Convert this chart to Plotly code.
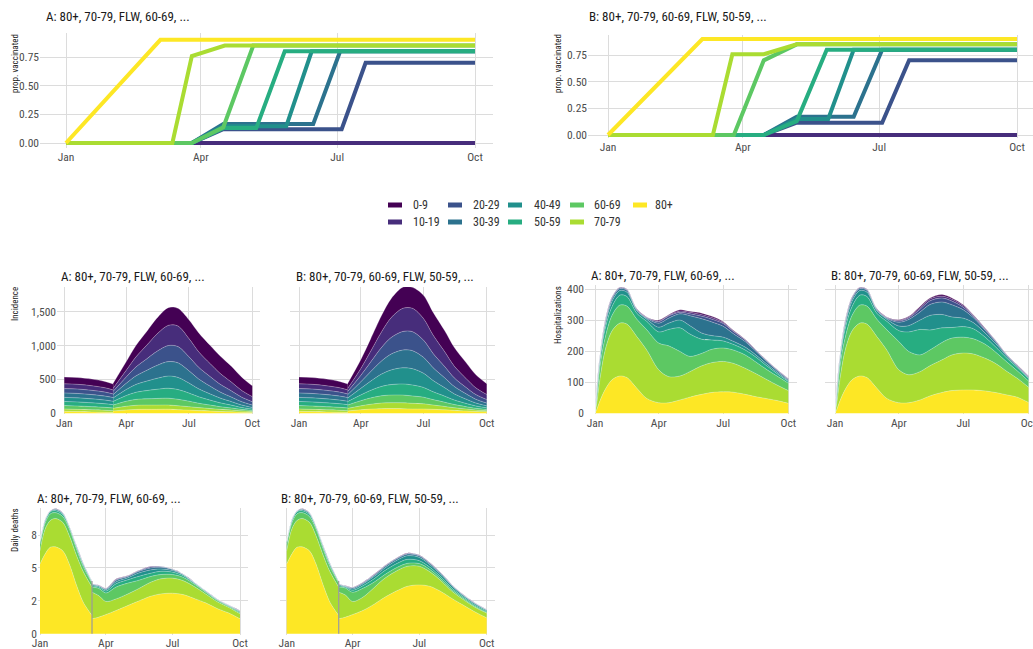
import pandas as pd
import plotly.graph_objects as go

W, H = 1033, 649
FONT = "Roboto Condensed, Liberation Sans Narrow, DejaVu Sans Condensed, Roboto, sans-serif"

groups = ["0-9", "10-19", "20-29", "30-39", "40-49", "50-59", "60-69", "70-79", "80+"]
colors = ["#440154", "#472D7B", "#3B528B", "#2C728E", "#21908C", "#27AD81", "#5DC863", "#AADC32", "#FDE725"]

title_A = "A: 80+, 70-79, FLW, 60-69, ..."
title_B = "B: 80+, 70-79, 60-69, FLW, 50-59, ..."

month_ticks = ["2021-01-01", "2021-04-01", "2021-07-01", "2021-10-01"]
month_labels = ["Jan", "Apr", "Jul", "Oct"]

vax_ticks = [0, 0.25, 0.5, 0.75]
vax_labels = ["0.00", "0.25", "0.50", "0.75"]
inc_ticks = [0, 500, 1000, 1500]
inc_labels = ["0", "500", "1,000", "1,500"]
hosp_ticks = [0, 100, 200, 300, 400]
hosp_labels = ["0", "100", "200", "300", "400"]
death_ticks = [0, 2.5, 5, 7.5]
death_labels = ["0", "2", "5", "8"]

# ---------------- proportion vaccinated (vertices of each line) ----------------
vaxA_0_9_x = ["2021-01-01", "2021-10-01"]
vaxA_0_9_y = [0, 0]
vaxA_10_19_x = ["2021-01-01", "2021-10-01"]
vaxA_10_19_y = [0, 0]
vaxA_20_29_x = ["2021-01-01", "2021-03-26", "2021-04-16", "2021-07-04", "2021-07-20", "2021-10-01"]
vaxA_20_29_y = [0, 0, 0.12, 0.12, 0.70, 0.70]
vaxA_30_39_x = ["2021-01-01", "2021-03-26", "2021-04-16", "2021-06-15", "2021-07-03", "2021-10-01"]
vaxA_30_39_y = [0, 0, 0.165, 0.165, 0.80, 0.80]
vaxA_40_49_x = ["2021-01-01", "2021-03-26", "2021-04-16", "2021-05-28", "2021-06-14", "2021-10-01"]
vaxA_40_49_y = [0, 0, 0.145, 0.145, 0.80, 0.80]
vaxA_50_59_x = ["2021-01-01", "2021-03-26", "2021-04-16", "2021-05-08", "2021-05-27", "2021-10-01"]
vaxA_50_59_y = [0, 0, 0.13, 0.13, 0.80, 0.80]
vaxA_60_69_x = ["2021-01-01", "2021-03-26", "2021-04-16", "2021-05-06", "2021-10-01"]
vaxA_60_69_y = [0, 0, 0.137, 0.85, 0.85]
vaxA_70_79_x = ["2021-01-01", "2021-03-13", "2021-03-26", "2021-04-17", "2021-10-01"]
vaxA_70_79_y = [0, 0, 0.758, 0.85, 0.85]
vaxA_80_x = ["2021-01-01", "2021-03-05", "2021-10-01"]
vaxA_80_y = [0, 0.90, 0.90]

vaxB_0_9_x = ["2021-01-01", "2021-10-01"]
vaxB_0_9_y = [0, 0]
vaxB_10_19_x = ["2021-01-01", "2021-10-01"]
vaxB_10_19_y = [0, 0]
vaxB_20_29_x = ["2021-01-01", "2021-04-15", "2021-05-07", "2021-07-03", "2021-07-21", "2021-10-01"]
vaxB_20_29_y = [0, 0, 0.115, 0.115, 0.70, 0.70]
vaxB_30_39_x = ["2021-01-01", "2021-04-15", "2021-05-07", "2021-06-14", "2021-07-03", "2021-10-01"]
vaxB_30_39_y = [0, 0, 0.17, 0.17, 0.80, 0.80]
vaxB_40_49_x = ["2021-01-01", "2021-04-15", "2021-05-07", "2021-05-28", "2021-06-14", "2021-10-01"]
vaxB_40_49_y = [0, 0, 0.15, 0.15, 0.80, 0.80]
vaxB_50_59_x = ["2021-01-01", "2021-04-15", "2021-05-07", "2021-05-27", "2021-10-01"]
vaxB_50_59_y = [0, 0, 0.13, 0.80, 0.80]
vaxB_60_69_x = ["2021-01-01", "2021-03-26", "2021-04-15", "2021-05-07", "2021-10-01"]
vaxB_60_69_y = [0, 0, 0.70, 0.85, 0.85]
vaxB_70_79_x = ["2021-01-01", "2021-03-12", "2021-03-25", "2021-04-15", "2021-05-07", "2021-10-01"]
vaxB_70_79_y = [0, 0, 0.757, 0.757, 0.85, 0.85]
vaxB_80_x = ["2021-01-01", "2021-03-05", "2021-10-01"]
vaxB_80_y = [0, 0.90, 0.90]

# ---------------- incidence ----------------
inc_pre_dates = ["2021-01-01", "2021-01-20", "2021-02-10", "2021-03-01", "2021-03-13"]
inc_pre_0_9 = [100, 100, 98, 93, 87]
inc_pre_10_19 = [70, 70, 68, 64, 59]
inc_pre_20_29 = [65, 65, 63, 59, 54]
inc_pre_30_39 = [65, 65, 63, 59, 54]
inc_pre_40_49 = [60, 60, 58, 54, 50]
inc_pre_50_59 = [60, 60, 57, 53, 49]
inc_pre_60_69 = [50, 50, 47, 44, 40]
inc_pre_70_79 = [35, 33, 31, 28, 26]
inc_pre_80 = [30, 25, 20, 16, 13]

inc_post_dates = ["2021-03-13", "2021-04-01", "2021-04-15", "2021-05-01", "2021-05-15", "2021-06-01",
                  "2021-06-15", "2021-07-01", "2021-07-15", "2021-08-01", "2021-08-15", "2021-09-01",
                  "2021-09-15", "2021-10-01"]
incA_0_9 = [75, 129, 169, 204, 235, 262, 261, 278, 280, 269, 258, 232, 198, 159]
incA_10_19 = [45, 99, 148, 203, 254, 298, 304, 268, 229, 191, 161, 130, 101, 75]
incA_20_29 = [48, 94, 132, 171, 207, 237, 240, 207, 173, 141, 115, 90, 68, 50]
incA_30_39 = [50, 92, 126, 159, 189, 214, 215, 181, 146, 114, 90, 67, 49, 34]
incA_40_49 = [52, 89, 116, 140, 161, 179, 179, 148, 118, 91, 71, 52, 37, 25]
incA_50_59 = [52, 84, 105, 122, 135, 147, 144, 120, 95, 73, 57, 41, 29, 20]
incA_60_69 = [50, 74, 87, 93, 98, 101, 96, 81, 65, 51, 40, 30, 22, 15]
incA_70_79 = [38, 54, 61, 62, 62, 61, 57, 51, 44, 37, 31, 26, 20, 15]
incA_80 = [35, 50, 57, 59, 59, 61, 54, 47, 40, 33, 27, 22, 16, 12]

incB_0_9 = [75, 134, 184, 241, 282, 312, 310, 342, 338, 312, 277, 236, 195, 160]
incB_10_19 = [45, 101, 157, 231, 293, 342, 345, 320, 271, 218, 172, 131, 99, 75]
incB_20_29 = [48, 96, 141, 199, 244, 274, 280, 254, 210, 166, 127, 95, 70, 52]
incB_30_39 = [50, 97, 140, 193, 234, 262, 266, 235, 190, 146, 109, 78, 56, 40]
incB_40_49 = [52, 96, 135, 182, 216, 239, 241, 210, 166, 124, 90, 63, 43, 30]
incB_50_59 = [52, 86, 112, 138, 155, 164, 162, 144, 116, 90, 67, 48, 35, 25]
incB_60_69 = [50, 76, 93, 108, 113, 114, 109, 98, 80, 62, 47, 34, 25, 18]
incB_70_79 = [38, 58, 71, 82, 86, 87, 83, 76, 63, 50, 39, 29, 21, 16]
incB_80 = [35, 52, 62, 69, 70, 68, 64, 64, 59, 51, 43, 35, 28, 22]

# ---------------- hospitalizations ----------------
hosp_dates = ["2021-01-01", "2021-01-04", "2021-01-08", "2021-01-15", "2021-01-25", "2021-02-05",
              "2021-02-15", "2021-03-01", "2021-03-15", "2021-04-01", "2021-04-15", "2021-05-01",
              "2021-05-15", "2021-06-01", "2021-06-15", "2021-07-01", "2021-07-15", "2021-08-01",
              "2021-08-15", "2021-09-01", "2021-09-15", "2021-10-01"]
hospA_0_9 = [0, 2, 1, 2, 1, 1, 1, 1, 1, 3, 2, 4, 3, 5, 4, 3, 2, 1, 1, 1, 1, 1]
hospA_10_19 = [0, 3, 1, 2, 2, 1, 1, 1, 1, 2, 2, 4, 5, 5, 5, 3, 2, 1, 1, 1, 1, 1]
hospA_20_29 = [0, 5, 3, 5, 4, 3, 2, 2, 2, 5, 7, 5, 6, 8, 9, 9, 7, 5, 3, 2, 2, 2]
hospA_30_39 = [0, 5, 5, 7, 8, 6, 6, 3, 3, 13, 16, 20, 32, 46, 44, 35, 25, 18, 12, 8, 5, 3]
hospA_40_49 = [0, 10, 10, 12, 17, 15, 14, 8, 7, 15, 20, 25, 27, 20, 14, 12, 10, 9, 7, 6, 5, 3]
hospA_50_59 = [0, 15, 20, 28, 28, 32, 31, 19, 27, 36, 53, 76, 72, 45, 30, 23, 18, 16, 16, 12, 8, 5]
hospA_60_69 = [0, 20, 40, 40, 50, 58, 58, 56, 65, 86, 99, 79, 49, 40, 43, 43, 43, 43, 38, 32, 29, 24]
hospA_70_79 = [0, 25, 70, 125, 157, 170, 172, 166, 156, 106, 84, 77, 82, 92, 96, 98, 93, 84, 75, 61, 50, 41]
hospA_80 = [0, 15, 40, 75, 108, 120, 115, 81, 48, 34, 34, 43, 52, 61, 67, 69, 68, 61, 54, 47, 41, 32]

hospB_0_9 = [0, 2, 1, 2, 1, 1, 1, 1, 1, 2, 2, 4, 3, 5, 4, 3, 2, 2, 1, 1, 1, 1]
hospB_10_19 = [0, 3, 1, 2, 2, 1, 1, 1, 1, 2, 3, 5, 6, 6, 6, 5, 2, 2, 1, 1, 1, 1]
hospB_20_29 = [0, 5, 3, 5, 4, 3, 2, 2, 2, 4, 5, 9, 12, 13, 12, 8, 5, 3, 3, 1, 1, 1]
hospB_30_39 = [0, 5, 5, 7, 8, 6, 6, 3, 3, 12, 20, 26, 35, 40, 39, 27, 16, 9, 6, 3, 2, 2]
hospB_40_49 = [0, 10, 10, 12, 17, 15, 14, 8, 7, 15, 20, 30, 47, 43, 34, 27, 20, 13, 11, 6, 4, 3]
hospB_50_59 = [0, 15, 20, 28, 28, 32, 31, 19, 27, 35, 63, 82, 64, 47, 34, 34, 32, 23, 17, 12, 10, 8]
hospB_60_69 = [0, 20, 40, 40, 50, 58, 58, 56, 65, 91, 75, 54, 51, 56, 54, 51, 49, 45, 37, 30, 24, 20]
hospB_70_79 = [0, 25, 70, 125, 157, 170, 172, 166, 156, 106, 90, 91, 97, 105, 115, 119, 116, 105, 94, 75, 61, 49]
hospB_80 = [0, 15, 40, 75, 108, 120, 115, 81, 48, 34, 34, 43, 56, 67, 73, 75, 75, 72, 67, 59, 52, 35]

# ---------------- daily deaths ----------------
death_pre_dates = ["2021-01-01", "2021-01-08", "2021-01-15", "2021-01-22", "2021-02-01", "2021-02-10",
                   "2021-02-20", "2021-03-01", "2021-03-13"]
death_pre_0_9 = [0.01, 0.01, 0.01, 0.02, 0.01, 0.01, 0.01, 0.01, 0.01]
death_pre_10_19 = [0.01, 0.01, 0.01, 0.01, 0.01, 0.01, 0.01, 0.01, 0.0]
death_pre_20_29 = [0.02, 0.02, 0.01, 0.02, 0.02, 0.01, 0.02, 0.02, 0.01]
death_pre_30_39 = [0.03, 0.04, 0.02, 0.04, 0.04, 0.03, 0.04, 0.04, 0.02]
death_pre_40_49 = [0.05, 0.07, 0.05, 0.08, 0.08, 0.05, 0.07, 0.07, 0.04]
death_pre_50_59 = [0.15, 0.15, 0.15, 0.15, 0.15, 0.15, 0.15, 0.15, 0.08]
death_pre_60_69 = [0.5, 0.45, 0.5, 0.45, 0.44, 0.5, 0.47, 0.38, 0.31]
death_pre_70_79 = [1.0, 1.89, 2.03, 2.15, 2.16, 2.15, 2.27, 2.32, 2.15]
death_pre_80 = [5.3, 6.06, 6.57, 6.6, 6.3, 5.3, 3.66, 2.4, 1.39]

death_post_dates = ["2021-03-13", "2021-03-22", "2021-04-01", "2021-04-15", "2021-05-01", "2021-05-15",
                    "2021-06-01", "2021-06-15", "2021-07-01", "2021-07-15", "2021-08-01", "2021-08-15",
                    "2021-09-01", "2021-09-15", "2021-10-01"]
deathA_0_9 = [0.01, 0.01, 0.01, 0.02, 0.01, 0.01, 0.02, 0.01, 0.01, 0.0, 0.0, 0.0, 0.0, 0.0, 0.01]
deathA_10_19 = [0.01, 0.01, 0.01, 0.03, 0.02, 0.02, 0.03, 0.02, 0.01, 0.01, 0.01, 0.01, 0.01, 0.01, 0.01]
deathA_20_29 = [0.02, 0.02, 0.03, 0.05, 0.04, 0.05, 0.08, 0.05, 0.02, 0.01, 0.01, 0.01, 0.01, 0.01, 0.02]
deathA_30_39 = [0.04, 0.04, 0.06, 0.12, 0.1, 0.12, 0.15, 0.13, 0.08, 0.03, 0.02, 0.02, 0.01, 0.01, 0.03]
deathA_40_49 = [0.07, 0.07, 0.1, 0.15, 0.15, 0.25, 0.25, 0.17, 0.12, 0.08, 0.04, 0.04, 0.03, 0.03, 0.04]
deathA_50_59 = [0.1, 0.1, 0.15, 0.25, 0.25, 0.3, 0.25, 0.25, 0.18, 0.12, 0.06, 0.04, 0.04, 0.04, 0.06]
deathA_60_69 = [0.39, 0.55, 0.65, 0.9, 0.82, 0.64, 0.44, 0.33, 0.28, 0.26, 0.18, 0.13, 0.1, 0.08, 0.08]
deathA_70_79 = [2.02, 1.64, 0.99, 0.88, 0.88, 0.94, 1.06, 1.14, 1.14, 1.06, 0.89, 0.68, 0.51, 0.43, 0.38]
deathA_80 = [1.14, 1.26, 1.46, 1.77, 2.15, 2.47, 2.85, 3.03, 3.08, 2.98, 2.65, 2.35, 1.89, 1.59, 1.14]

deathB_0_9 = [0.01, 0.01, 0.01, 0.01, 0.02, 0.01, 0.02, 0.02, 0.01, 0.01, 0.01, 0.01, 0.01, 0.0, 0.0]
deathB_10_19 = [0.01, 0.01, 0.02, 0.02, 0.02, 0.02, 0.02, 0.02, 0.02, 0.02, 0.01, 0.01, 0.01, 0.01, 0.01]
deathB_20_29 = [0.02, 0.02, 0.03, 0.03, 0.04, 0.05, 0.05, 0.05, 0.05, 0.04, 0.03, 0.03, 0.02, 0.02, 0.02]
deathB_30_39 = [0.04, 0.02, 0.08, 0.07, 0.09, 0.1, 0.11, 0.12, 0.1, 0.09, 0.08, 0.06, 0.04, 0.04, 0.03]
deathB_40_49 = [0.07, 0.05, 0.1, 0.13, 0.18, 0.2, 0.25, 0.28, 0.25, 0.2, 0.17, 0.15, 0.1, 0.09, 0.07]
deathB_50_59 = [0.1, 0.07, 0.15, 0.2, 0.25, 0.3, 0.3, 0.3, 0.22, 0.17, 0.15, 0.12, 0.1, 0.1, 0.08]
deathB_60_69 = [0.39, 0.53, 0.7, 0.67, 0.41, 0.28, 0.25, 0.22, 0.2, 0.18, 0.14, 0.12, 0.09, 0.07, 0.06]
deathB_70_79 = [2.02, 1.69, 0.99, 1.01, 1.27, 1.44, 1.52, 1.52, 1.42, 1.11, 0.8, 0.55, 0.42, 0.36, 0.36]
deathB_80 = [1.14, 1.26, 1.46, 1.77, 2.27, 2.78, 3.28, 3.61, 3.71, 3.61, 3.16, 2.66, 2.11, 1.66, 1.21]

# ---------------- assemble ----------------
vaxA = [(vaxA_0_9_x, vaxA_0_9_y), (vaxA_10_19_x, vaxA_10_19_y), (vaxA_20_29_x, vaxA_20_29_y),
        (vaxA_30_39_x, vaxA_30_39_y), (vaxA_40_49_x, vaxA_40_49_y), (vaxA_50_59_x, vaxA_50_59_y),
        (vaxA_60_69_x, vaxA_60_69_y), (vaxA_70_79_x, vaxA_70_79_y), (vaxA_80_x, vaxA_80_y)]
vaxB = [(vaxB_0_9_x, vaxB_0_9_y), (vaxB_10_19_x, vaxB_10_19_y), (vaxB_20_29_x, vaxB_20_29_y),
        (vaxB_30_39_x, vaxB_30_39_y), (vaxB_40_49_x, vaxB_40_49_y), (vaxB_50_59_x, vaxB_50_59_y),
        (vaxB_60_69_x, vaxB_60_69_y), (vaxB_70_79_x, vaxB_70_79_y), (vaxB_80_x, vaxB_80_y)]
inc_pre = [inc_pre_0_9, inc_pre_10_19, inc_pre_20_29, inc_pre_30_39, inc_pre_40_49, inc_pre_50_59,
           inc_pre_60_69, inc_pre_70_79, inc_pre_80]
incA = [incA_0_9, incA_10_19, incA_20_29, incA_30_39, incA_40_49, incA_50_59, incA_60_69, incA_70_79, incA_80]
incB = [incB_0_9, incB_10_19, incB_20_29, incB_30_39, incB_40_49, incB_50_59, incB_60_69, incB_70_79, incB_80]
hospA = [hospA_0_9, hospA_10_19, hospA_20_29, hospA_30_39, hospA_40_49, hospA_50_59, hospA_60_69, hospA_70_79, hospA_80]
hospB = [hospB_0_9, hospB_10_19, hospB_20_29, hospB_30_39, hospB_40_49, hospB_50_59, hospB_60_69, hospB_70_79, hospB_80]
death_pre = [death_pre_0_9, death_pre_10_19, death_pre_20_29, death_pre_30_39, death_pre_40_49,
             death_pre_50_59, death_pre_60_69, death_pre_70_79, death_pre_80]
deathA = [deathA_0_9, deathA_10_19, deathA_20_29, deathA_30_39, deathA_40_49, deathA_50_59, deathA_60_69, deathA_70_79, deathA_80]
deathB = [deathB_0_9, deathB_10_19, deathB_20_29, deathB_30_39, deathB_40_49, deathB_50_59, deathB_60_69, deathB_70_79, deathB_80]

T0 = pd.Timestamp("2021-01-01")


def date_range(left, right, jan_px, oct_px):
    ppd = (oct_px - jan_px) / 273.0
    lo = T0 + pd.Timedelta(days=(left - jan_px) / ppd)
    hi = T0 + pd.Timedelta(days=(right - jan_px) / ppd)
    return [lo.strftime("%Y-%m-%d %H:%M:%S"), hi.strftime("%Y-%m-%d %H:%M:%S")]


def val_range(top, bottom, v0, p0, v1, p1):
    k = (v1 - v0) / (p1 - p0)
    return [v0 + (bottom - p0) * k, v0 + (top - p0) * k]


# panel layout: box = (left, top, right, bottom) in px
panels = [
    dict(box=(40, 33, 493, 148), jan=66, oct=475, yref=(0, 143, 0.75, 57), ticks=(vax_ticks, vax_labels), labels=True),
    dict(box=(588, 35, 1033, 138), jan=608, oct=1017, yref=(0, 135, 0.75, 55), ticks=(vax_ticks, vax_labels), labels=True),
    dict(box=(57, 287, 260, 414), jan=64.3, oct=252.3, yref=(0, 413.3, 1500, 311.7), ticks=(inc_ticks, inc_labels), labels=True),
    dict(box=(290, 287, 495, 414), jan=299, oct=486.7, yref=(0, 413.3, 1500, 311.7), ticks=(inc_ticks, inc_labels), labels=False),
    dict(box=(585, 285, 797, 414), jan=595, oct=788.3, yref=(0, 413.3, 400, 289), ticks=(hosp_ticks, hosp_labels), labels=True),
    dict(box=(825, 285, 1033, 414), jan=835, oct=1028.5, yref=(0, 413.3, 400, 289), ticks=(hosp_ticks, hosp_labels), labels=False),
    dict(box=(38, 508, 248, 634.8), jan=40, oct=240, yref=(0, 633.8, 7.5, 535), ticks=(death_ticks, death_labels), labels=True),
    dict(box=(280, 508, 495, 634.8), jan=286.7, oct=486.7, yref=(0, 633.8, 7.5, 535), ticks=(death_ticks, death_labels), labels=False),
]

fig = go.Figure()
layout = {}
GRID = "#dcdcdc"
TICKFONT = dict(family=FONT, size=11.5, color="#4d4d4d")

for i, p in enumerate(panels):
    sfx = "" if i == 0 else str(i + 1)
    l, t, r, b = p["box"]
    layout["xaxis" + sfx] = dict(
        domain=[l / W, min(r / W, 1.0)], anchor="y" + sfx, type="date", automargin=False,
        range=date_range(l, r, p["jan"], p["oct"]), ticklabeloverflow="allow",
        tickvals=month_ticks, ticktext=month_labels, showgrid=True, gridcolor=GRID, gridwidth=1,
        zeroline=False, showline=False, ticks="", tickfont=TICKFONT, fixedrange=True)
    layout["yaxis" + sfx] = dict(
        domain=[1 - b / H, 1 - t / H], anchor="x" + sfx, automargin=False,
        range=val_range(t, b, *p["yref"]),
        tickvals=p["ticks"][0], ticktext=p["ticks"][1], showticklabels=p["labels"],
        showgrid=True, gridcolor=GRID, gridwidth=1, zeroline=False, showline=False, ticks="",
        tickfont=TICKFONT, fixedrange=True)


def axes(i):
    sfx = "" if i == 0 else str(i + 1)
    return "x" + sfx, "y" + sfx


SEP = dict(width=0.6, color="rgba(255,255,255,0.45)", shape="spline", smoothing=0.9)

# vaccination lines (0-9 drawn first, 80+ last)
for pi, data in ((0, vaxA), (1, vaxB)):
    xa, ya = axes(pi)
    for g, (xs, ys) in enumerate(data):
        fig.add_trace(go.Scatter(x=xs, y=ys, mode="lines", xaxis=xa, yaxis=ya, showlegend=False,
                                 line=dict(color=colors[g], width=4), hoverinfo="skip"))


def add_stack(pi, dates, series, stack_name):
    xa, ya = axes(pi)
    for g in range(len(groups) - 1, -1, -1):  # 80+ at bottom
        fig.add_trace(go.Scatter(x=dates, y=series[g], mode="lines", stackgroup=stack_name,
                                 xaxis=xa, yaxis=ya, showlegend=False, fillcolor=colors[g],
                                 line=SEP, hoverinfo="skip", name=groups[g]))


add_stack(2, inc_pre_dates, inc_pre, "incA_pre")
add_stack(2, inc_post_dates, incA, "incA_post")
add_stack(3, inc_pre_dates, inc_pre, "incB_pre")
add_stack(3, inc_post_dates, incB, "incB_post")
add_stack(4, hosp_dates, hospA, "hospA")
add_stack(5, hosp_dates, hospB, "hospB")
add_stack(6, death_pre_dates, death_pre, "deathA_pre")
add_stack(6, death_post_dates, deathA, "deathA_post")
add_stack(7, death_pre_dates, death_pre, "deathB_pre")
add_stack(7, death_post_dates, deathB, "deathB_post")

# thin grey edge where the two death segments meet
split_total = sum(s[-1] for s in death_pre)
for pi in (6, 7):
    xa, ya = axes(pi)
    fig.add_trace(go.Scatter(x=[death_pre_dates[-1], death_pre_dates[-1]], y=[0, split_total],
                             mode="lines", xaxis=xa, yaxis=ya, showlegend=False,
                             line=dict(color="#9a9a9a", width=1.2), hoverinfo="skip"))

annotations = []
TITLEFONT = dict(family=FONT, size=13, color="#1a1a1a")


def px_ann(text, x, y, font, xanchor="left", yanchor="middle", angle=0):
    annotations.append(dict(text=text, x=x / W, y=1 - y / H, xref="paper", yref="paper",
                            xanchor=xanchor, yanchor=yanchor, showarrow=False, font=font,
                            textangle=angle))


# panel titles
px_ann(title_A, 44, 16, TITLEFONT)
px_ann(title_B, 587, 16, TITLEFONT)
px_ann(title_A, 59, 276, TITLEFONT)
px_ann(title_B, 294, 276, TITLEFONT)
px_ann(title_A, 589, 275, TITLEFONT)
px_ann(title_B, 829, 275, TITLEFONT)
px_ann(title_A, 35, 498, TITLEFONT)
px_ann(title_B, 279, 498, TITLEFONT)

# y axis titles
YT = dict(family=FONT, size=9, color="#1a1a1a")
px_ann("prop. vaccinated", 15, 64, YT, xanchor="center", yanchor="middle", angle=-90)
px_ann("prop. vaccinated", 558, 64, YT, xanchor="center", yanchor="middle", angle=-90)
px_ann("Incidence", 15, 304, YT, xanchor="center", yanchor="middle", angle=-90)
px_ann("Hospitalizations", 558, 315, YT, xanchor="center", yanchor="middle", angle=-90)
px_ann("Daily deaths", 15, 530, YT, xanchor="center", yanchor="middle", angle=-90)

# legend (two rows, filled column by column)
shapes = []
LEGFONT = dict(family=FONT, size=12, color="#333333")
col_sw = [388, 448, 508, 570, 633]
col_tx = [411, 471, 532, 592, 653]
row_y = [205, 222]
for g, name in enumerate(groups):
    c, rr = divmod(g, 2)
    yc = row_y[rr]
    shapes.append(dict(type="rect", xref="paper", yref="paper",
                       x0=col_sw[c] / W, x1=(col_sw[c] + 14) / W,
                       y0=1 - (yc + 2.5) / H, y1=1 - (yc - 2.5) / H,
                       fillcolor=colors[g], line=dict(width=0)))
    px_ann(name, col_tx[c], yc, LEGFONT)

fig.update_layout(**layout)
fig.update_layout(width=W, height=H, margin=dict(l=0, r=0, t=0, b=0, pad=0), autosize=False,
                  paper_bgcolor="white", plot_bgcolor="white", showlegend=False,
                  annotations=annotations, shapes=shapes, font=dict(family=FONT))

fig.write_html("out.html", config={"displayModeBar": False, "staticPlot": True},
               post_script="document.body.style.margin='0';document.body.style.overflow='hidden';")
